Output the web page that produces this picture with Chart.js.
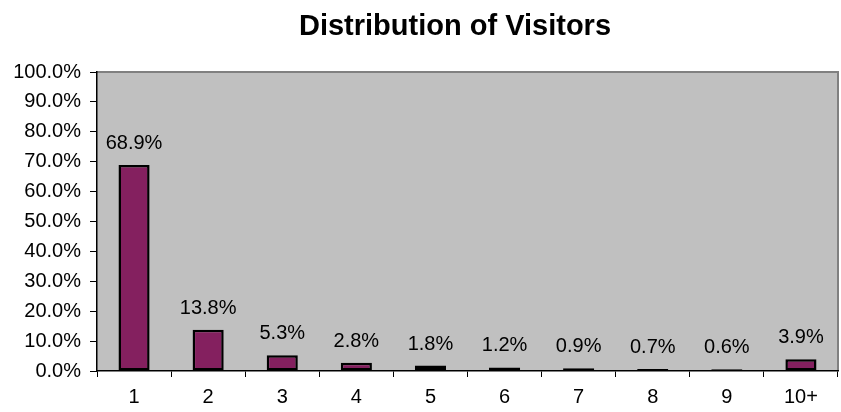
<!DOCTYPE html>
<html><head><meta charset="utf-8">
<script src="https://cdn.jsdelivr.net/npm/chart.js@4"></script>
<style>html,body{margin:0;padding:0;background:#fff}#wrap{width:841px;height:412px}</style>
</head><body><div id="wrap"><canvas id="c" width="841" height="412"></canvas></div>
<script>
const categories = ['1','2','3','4','5','6','7','8','9','10+'];
const values = [68.9, 13.8, 5.3, 2.8, 1.8, 1.2, 0.9, 0.7, 0.6, 3.9];
const titleText = 'Distribution of Visitors';
const yMin = 0, yMax = 100, yStep = 10;

const FONT = '"Liberation Sans", Arial, sans-serif';

const plotBg = {
  id: 'plotBg',
  beforeDraw(chart) {
    const {ctx, chartArea: a} = chart;
    ctx.save();
    ctx.fillStyle = '#C0C0C0';
    ctx.fillRect(a.left, a.top, a.right - a.left, a.bottom - a.top);
    ctx.strokeStyle = '#808080';
    ctx.lineWidth = 2;
    ctx.beginPath();
    ctx.moveTo(a.left, a.top);
    ctx.lineTo(a.right, a.top);
    ctx.lineTo(a.right, a.bottom);
    ctx.stroke();
    ctx.restore();
  }
};

const barLabels = {
  id: 'barLabels',
  afterDatasetsDraw(chart) {
    const {ctx} = chart;
    const meta = chart.getDatasetMeta(0);
    ctx.save();
    ctx.font = '20px ' + FONT;
    ctx.fillStyle = '#000';
    ctx.textAlign = 'center';
    ctx.textBaseline = 'alphabetic';
    meta.data.forEach((el, i) => {
      ctx.fillText(values[i].toFixed(1) + '%', el.x, el.y - 16);
    });
    ctx.restore();
  }
};

const titlePlugin = {
  id: 'titlePlugin',
  afterDraw(chart) {
    const {ctx} = chart;
    ctx.save();
    ctx.font = 'bold 29px ' + FONT;
    ctx.fillStyle = '#000';
    ctx.textAlign = 'center';
    ctx.textBaseline = 'alphabetic';
    ctx.fillText(titleText, 455, 35);
    ctx.restore();
  }
};

new Chart(document.getElementById('c'), {
  type: 'bar',
  data: {
    labels: categories,
    datasets: [{
      data: values,
      backgroundColor: '#84205F',
      borderColor: '#000',
      borderWidth: 2.5,
      borderSkipped: false,
      barPercentage: 0.42,
      categoryPercentage: 1
    }]
  },
  options: {
    responsive: false,
    animation: false,
    devicePixelRatio: 1,
    layout: {padding: {top: 72, right: 3, left: 0, bottom: 0}},
    plugins: {legend: {display: false}, title: {display: false}, tooltip: {enabled: false}},
    scales: {
      x: {
        afterFit(s) { s.height = 41; },
        grid: {display: true, offset: true, drawOnChartArea: false, drawTicks: true, tickLength: 6, color: '#000', lineWidth: 1},
        border: {display: true, color: '#000', width: 1.5},
        ticks: {color: '#000', font: {family: FONT, size: 20}, padding: 8, maxRotation: 0}
      },
      y: {
        min: yMin, max: yMax,
        afterFit(s) { s.width = 97; },
        grid: {display: true, drawOnChartArea: false, drawTicks: true, tickLength: 7, color: '#000', lineWidth: 1},
        border: {display: true, color: '#000', width: 1.5},
        ticks: {stepSize: yStep, color: '#000', font: {family: FONT, size: 20}, padding: 9,
          callback: v => v.toFixed(1) + '%'}
      }
    }
  },
  plugins: [plotBg, barLabels, titlePlugin]
});
</script>
</body></html>
